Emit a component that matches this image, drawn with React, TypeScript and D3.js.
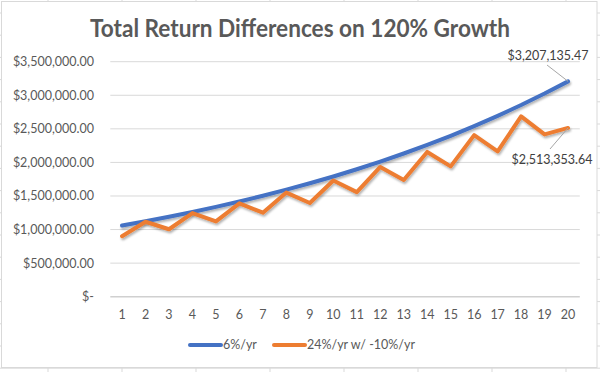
import React from "react";
import * as d3 from "d3";

const years = [1, 2, 3, 4, 5, 6, 7, 8, 9, 10, 11, 12, 13, 14, 15, 16, 17, 18, 19, 20];
const steady = [
  1060000, 1123600, 1191016, 1262477, 1338226, 1418519, 1503630, 1593848, 1689479, 1790848,
  1898299, 2012196, 2132928, 2260904, 2396558, 2540352, 2692773, 2854339, 3025600, 3207135.47,
];
const volatile = [
  900000, 1116000, 1004400, 1245456, 1120910, 1389929, 1250936, 1551161, 1396045, 1731096,
  1557986, 1931903, 1738713, 2156004, 1940404, 2406101, 2165491, 2685209, 2416688, 2513353.64,
];
const yTicks = [0, 500000, 1000000, 1500000, 2000000, 2500000, 3000000, 3500000];
const seriesNames = ["6%/yr", "24%/yr w/ -10%/yr"];
const colors = ["#4472C4", "#ED7D31"];
const title = "Total Return Differences on 120% Growth";

const W = 600, H = 372;
const FONT = "Lato, 'Open Sans', sans-serif";

export default function App() {
  const x = d3.scaleBand<number>().domain(years).range([110.3, 579.8]);
  const y = d3.scaleLinear().domain([0, 3500000]).range([296.7, 61.7]);
  const fmt = (v: number) => (v === 0 ? "$-" : "$" + d3.format(",.2f")(v));
  const line = d3
    .line<number>()
    .x((_, i) => (x(years[i]) as number) + x.bandwidth() / 2)
    .y((d) => y(d));
  const series = [steady, volatile];
  const lastX = (x(20) as number) + x.bandwidth() / 2;
  const rowLines = d3.range(13, 372, 22.2);
  const colLines = d3.range(48, 600, 74);

  return (
    <svg
      width={W}
      height={H}
      style={{ position: "absolute", left: 0, top: 0, display: "block", background: "#fff" }}
    >
      <defs>
        <filter id="sh" x="-10%" y="-10%" width="120%" height="130%">
          <feDropShadow dx="1" dy="2" stdDeviation="1.2" floodColor="#000" floodOpacity="0.3" />
        </filter>
      </defs>
      {/* spreadsheet cell grid behind */}
      {rowLines.map((r) => (
        <line key={"r" + r} x1={0} x2={W} y1={r} y2={r} stroke="#d9d9d9" strokeWidth={1} />
      ))}
      {colLines.map((c) => (
        <line key={"c" + c} x1={c} x2={c} y1={0} y2={H} stroke="#d9d9d9" strokeWidth={1} />
      ))}
      <rect x={1.5} y={1.5} width={595.5} height={366} fill="#fff" stroke="#d9d9d9" strokeWidth={1} />

      <text
        x={300}
        y={37}
        textAnchor="middle"
        fontFamily={FONT}
        fontWeight="bold"
        fontSize={24}
        textLength={420}
        lengthAdjust="spacingAndGlyphs"
        fill="#595959"
      >
        {title}
      </text>

      {yTicks.map((t) => (
        <g key={t}>
          {t > 0 && (
            <line x1={110.3} x2={579.8} y1={y(t)} y2={y(t)} stroke="#d9d9d9" strokeWidth={1} />
          )}
          <text
            x={94}
            y={y(t)}
            dy="0.35em"
            textAnchor="end"
            fontFamily={FONT}
            fontSize={12.5}
            fill="#595959"
          >
            {fmt(t)}
          </text>
        </g>
      ))}
      <line x1={110.3} x2={579.8} y1={y(0)} y2={y(0)} stroke="#d0d0d0" strokeWidth={1.5} />
      {years.map((yr) => (
        <text
          key={yr}
          x={(x(yr) as number) + x.bandwidth() / 2}
          y={319}
          textAnchor="middle"
          fontFamily={FONT}
          fontSize={12.5}
          fill="#595959"
        >
          {yr}
        </text>
      ))}

      {series.map((s, i) => (
        <path
          key={i}
          d={line(s) as string}
          fill="none"
          stroke={colors[i]}
          strokeWidth={4}
          strokeLinejoin="round"
          strokeLinecap="round"
          filter="url(#sh)"
        />
      ))}

      {/* data labels */}
      <line x1={547} y1={65} x2={lastX} y2={y(steady[19])} stroke="#a6a6a6" strokeWidth={1} />
      <text x={548} y={56} dy="0.35em" textAnchor="middle" fontFamily={FONT} fontSize={12.5} fill="#404040">
        {fmt(steady[19])}
      </text>
      <line x1={550} y1={149} x2={lastX} y2={y(volatile[19])} stroke="#a6a6a6" strokeWidth={1} />
      <text x={552} y={160} dy="0.35em" textAnchor="middle" fontFamily={FONT} fontSize={12.5} fill="#404040">
        {fmt(volatile[19])}
      </text>

      {/* legend */}
      {seriesNames.map((n, i) => {
        const lx = i === 0 ? 190 : 274;
        return (
          <g key={n}>
            <line x1={lx} x2={lx + 31} y1={345} y2={345} stroke={colors[i]} strokeWidth={4} strokeLinecap="round" />
            <text x={lx + 33} y={345} dy="0.35em" fontFamily={FONT} fontSize={12.5} fill="#595959">
              {n}
            </text>
          </g>
        );
      })}
    </svg>
  );
}
